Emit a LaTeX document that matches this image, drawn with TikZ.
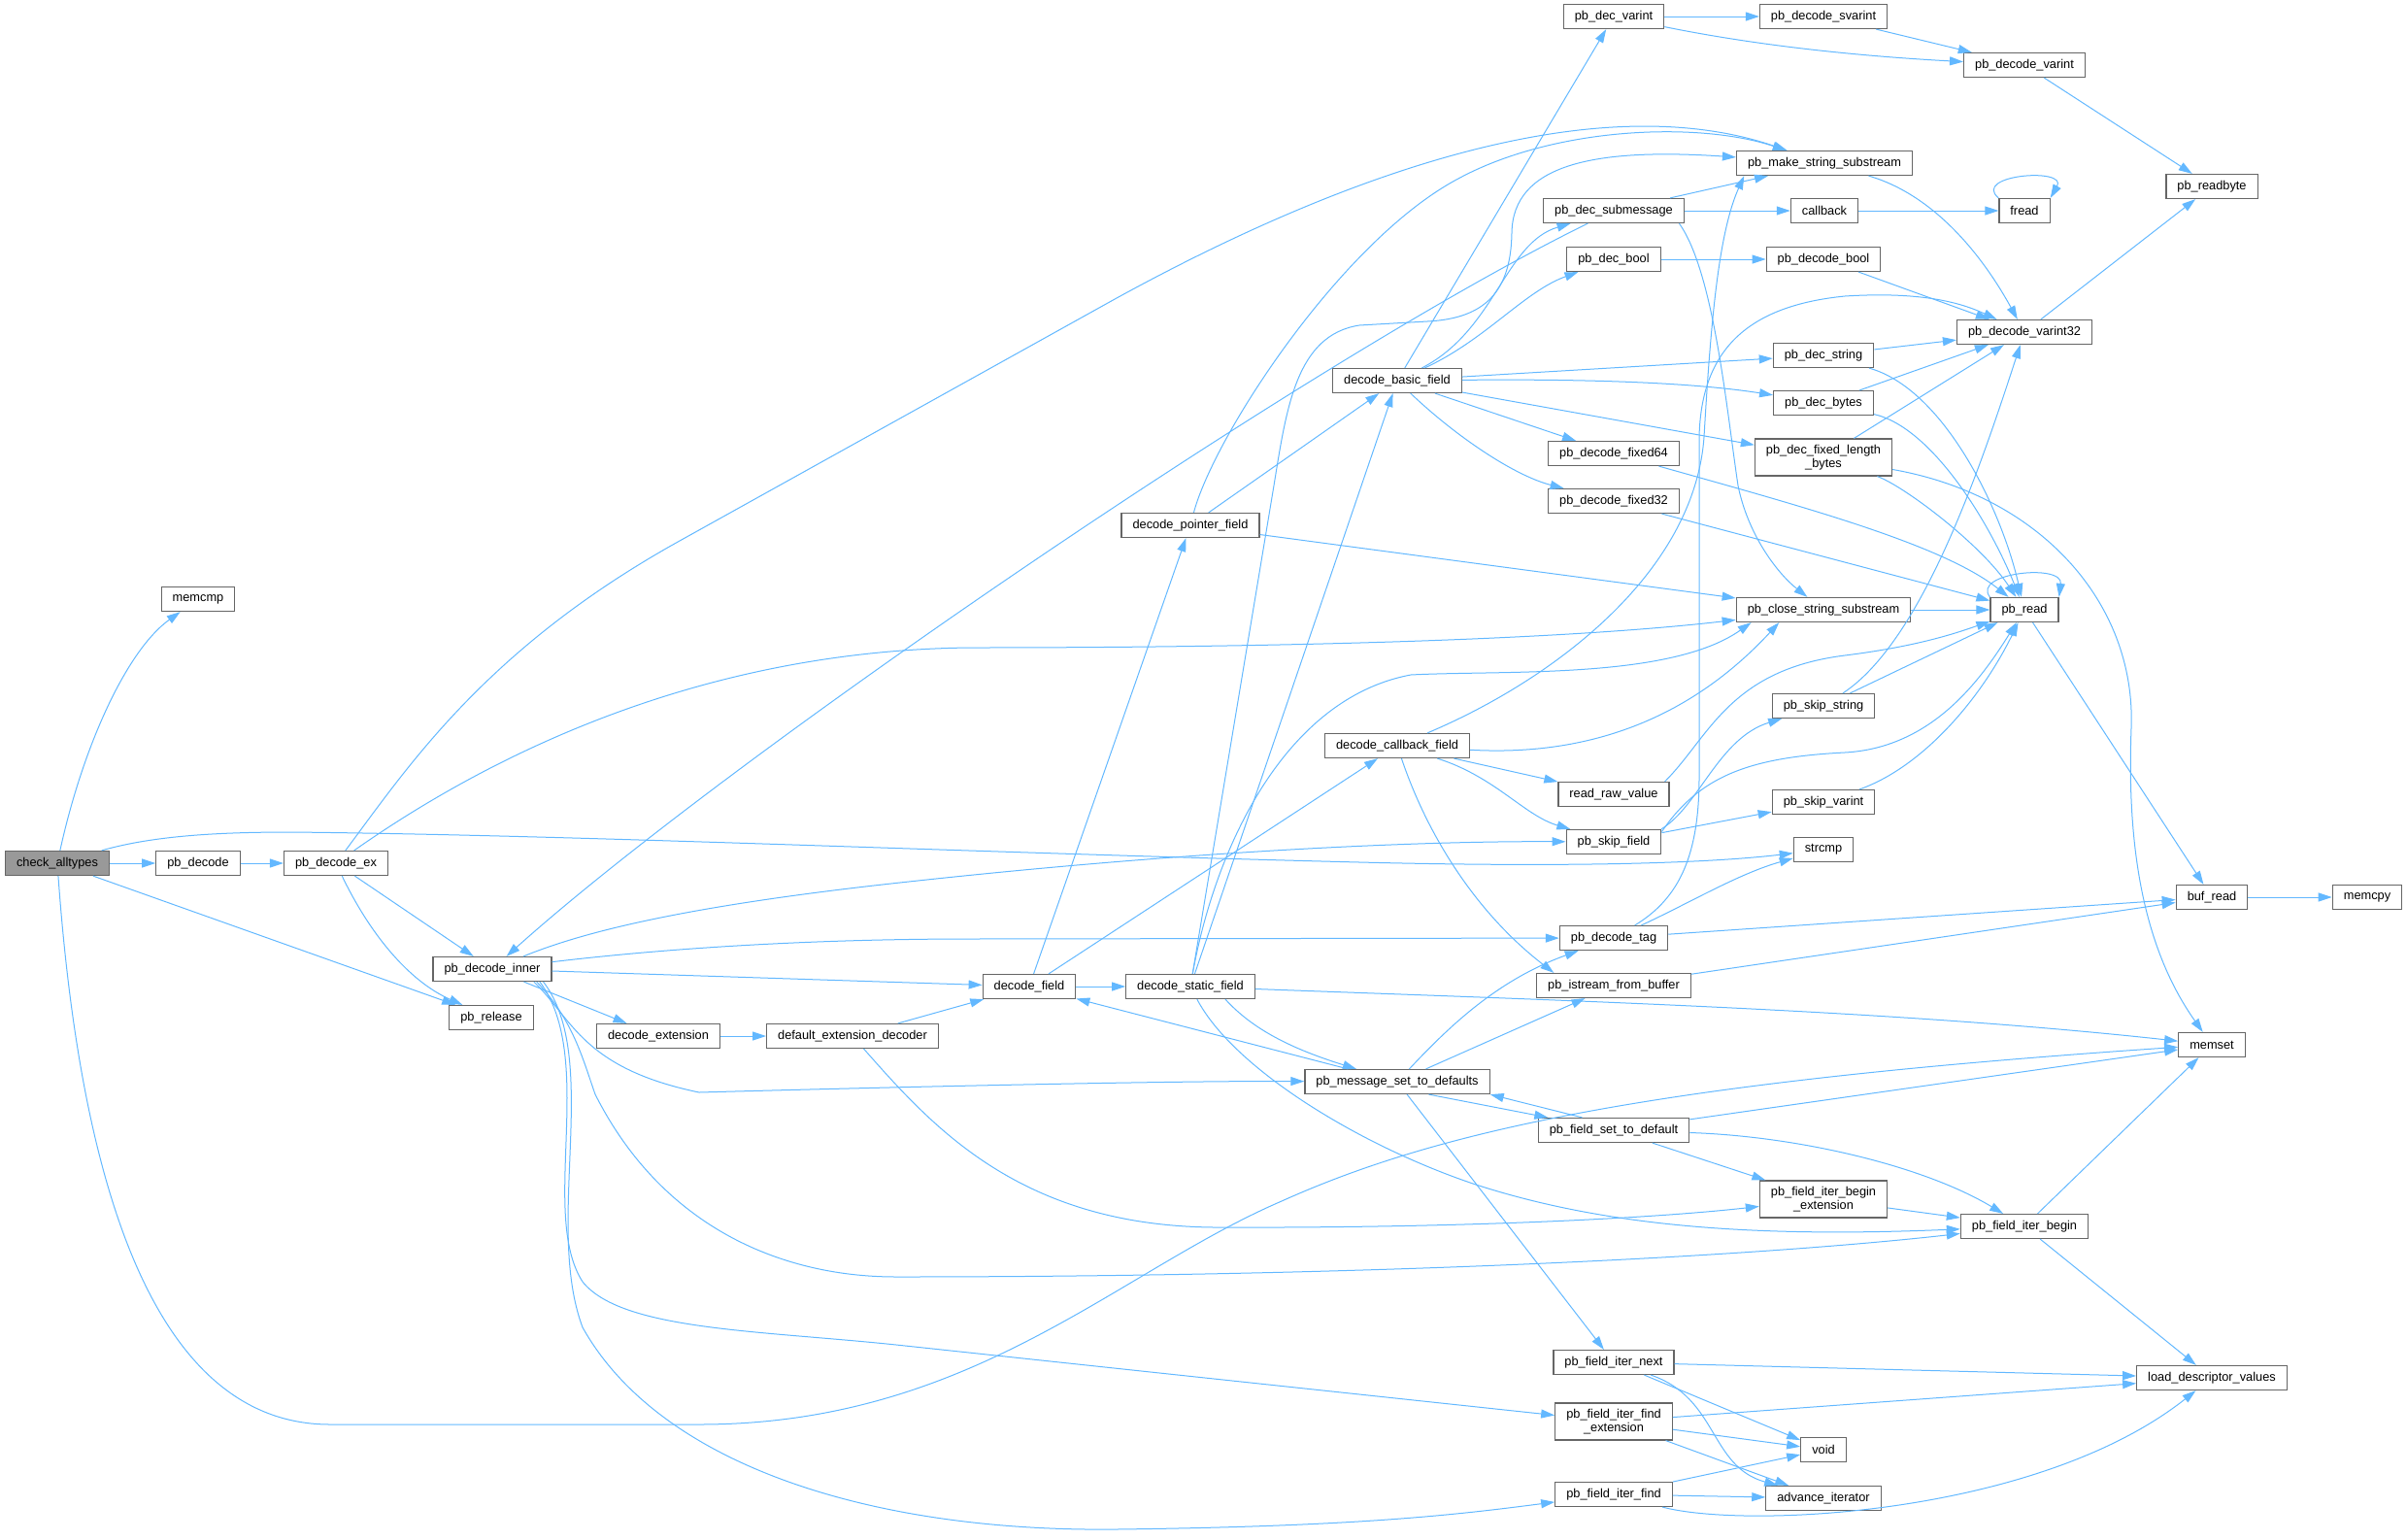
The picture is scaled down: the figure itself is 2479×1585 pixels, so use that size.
\documentclass[tikz,border=0pt]{standalone}
\usepackage{fontspec}
\newfontfamily\graphfont{Liberation Sans}
\usetikzlibrary{arrows.meta}
\definecolor{edgeblue}{HTML}{63B8FF}
\definecolor{boxgray}{HTML}{666666}
\definecolor{rootgray}{HTML}{999999}

\begin{document}
\begin{tikzpicture}[
      x=0.5pt, y=-0.5pt,
      every node/.style={draw=boxgray, fill=white, line width=0.6pt,
        inner xsep=5.75pt, inner ysep=0pt, minimum height=12.5pt,
        font=\graphfont\fontsize{6.4}{7.2}\selectfont},
      two/.style={align=center, minimum height=19pt},
      call/.style={draw=edgeblue, line width=0.5pt,
        -{Triangle[length=7pt,width=4.5pt]}}]
    \useasboundingbox (0,0) rectangle (2479,1585);

    \node[fill=rootgray] (ca) at (59,889) {check\_alltypes};
    \node (memcmp)  at (204,617)   {memcmp};
    \node (pbd)     at (204,889)   {pb\_decode};
    \node (pbdex)   at (346,889)   {pb\_decode\_ex};
    \node (pbdi)    at (507,998)   {pb\_decode\_inner};
    \node (pbrel)   at (506,1048)  {pb\_release};
    \node (dext)    at (678,1067)  {decode\_extension};
    \node (dextd)   at (878,1067)  {default\_extension\_decoder};
    \node (df)      at (1060,1016) {decode\_field};
    \node (dsf)     at (1226,1016) {decode\_static\_field};
    \node (dpf)     at (1226,541)  {decode\_pointer\_field};
    \node (dbf)     at (1439,392)  {decode\_basic\_field};
    \node (dcf)     at (1439,768)  {decode\_callback\_field};
    \node (pmsd)    at (1439,1114) {pb\_message\_set\_to\_defaults};
    \node (pdvi)    at (1662,17)   {pb\_dec\_varint};
    \node (pdsub)   at (1662,217)  {pb\_dec\_submessage};
    \node (pdbool)  at (1662,267)  {pb\_dec\_bool};
    \node (pdf64)   at (1662,467)  {pb\_decode\_fixed64};
    \node (pdf32)   at (1662,516)  {pb\_decode\_fixed32};
    \node (rrv)     at (1662,818)  {read\_raw\_value};
    \node (psf)     at (1662,867)  {pb\_skip\_field};
    \node (pdt)     at (1662,966)  {pb\_decode\_tag};
    \node (pifb)    at (1662,1015) {pb\_istream\_from\_buffer};
    \node (pfstd)   at (1662,1164) {pb\_field\_set\_to\_default};
    \node (pfin)    at (1662,1403) {pb\_field\_iter\_next};
    \node[two] (pfife) at (1662,1464) {pb\_field\_iter\_find\\\_extension};
    \node (pfif)    at (1662,1539) {pb\_field\_iter\_find};
    \node (pdsv)    at (1878,17)   {pb\_decode\_svarint};
    \node (pmss)    at (1879,168)  {pb\_make\_string\_substream};
    \node (cb)      at (1879,217)  {callback};
    \node (pdcbool) at (1878,267)  {pb\_decode\_bool};
    \node (pdstr)   at (1878,366)  {pb\_dec\_string};
    \node (pdbytes) at (1878,415)  {pb\_dec\_bytes};
    \node[two] (pdflb) at (1878,471) {pb\_dec\_fixed\_length\\\_bytes};
    \node (pcss)    at (1878,628)  {pb\_close\_string\_substream};
    \node (pss)     at (1878,727)  {pb\_skip\_string};
    \node (psv)     at (1878,826)  {pb\_skip\_varint};
    \node (strcmp)  at (1878,875)  {strcmp};
    \node[two] (pfibe) at (1878,1235) {pb\_field\_iter\_begin\\\_extension};
    \node (void)    at (1878,1493) {void};
    \node (ai)      at (1878,1543) {advance\_iterator};
    \node (pdvar)   at (2085,67)   {pb\_decode\_varint};
    \node (fread)   at (2085,217)  {fread};
    \node (pdv32)   at (2085,342)  {pb\_decode\_varint32};
    \node (pread)   at (2085,628)  {pb\_read};
    \node (pfib)    at (2085,1263) {pb\_field\_iter\_begin};
    \node (prb)     at (2278,192)  {pb\_readbyte};
    \node (bufr)    at (2278,924)  {buf\_read};
    \node (memset)  at (2278,1076) {memset};
    \node (ldv)     at (2278,1419) {load\_descriptor\_values};
    \node (memcpy)  at (2438,924)  {memcpy};

    % check_alltypes and the decode entry points
    \draw[call] (ca) .. controls (85,770) and (130,670) .. (memcmp);
    \draw[call] (ca) -- (pbd);
    \draw[call] (ca) -- (pbrel);
    \draw[call] (ca) .. controls (160,860) and (230,857) .. (300,857) .. controls (600,860) and (1000,878) .. (1400,888) .. controls (1600,893) and (1750,890) .. (strcmp);
    \draw[call] (ca) .. controls (85,1250) and (170,1467) .. (340,1467) -- (720,1467) .. controls (1000,1467) and (1150,1310) .. (1320,1237) .. controls (1480,1165) and (1700,1115) .. (memset);
    \draw[call] (pbd) -- (pbdex);
    \draw[call] (pbdex) .. controls (420,790) and (500,668) .. (700,557) -- (1150,307) .. controls (1400,170) and (1650,90) .. (pmss);
    \draw[call] (pbdex) .. controls (480,795) and (700,670) .. (1000,667) .. controls (1300,667) and (1600,660) .. (pcss);
    \draw[call] (pbdex) -- (pbdi);
    \draw[call] (pbdex) .. controls (380,960) and (420,1010) .. (pbrel);

    % pb_decode_inner
    \draw[call] (pbdi) .. controls (600,960) and (700,935) .. (900,912) .. controls (1200,878) and (1450,866) .. (psf);
    \draw[call] (pbdi) .. controls (700,975) and (850,967) .. (1000,967) -- (pdt);
    \draw[call] (pbdi) -- (df);
    \draw[call] (pbdi) -- (dext);
    \draw[call] (pbdi.-17) .. controls (590,1050) and (600,1100) .. (720,1125) .. controls (900,1120) and (1200,1113) .. (pmsd);
    \draw[call] (pbdi.-16) .. controls (590,1050) and (600,1090) .. (613,1127) .. controls (680,1260) and (800,1315) .. (923,1315) .. controls (1400,1315) and (1800,1295) .. (pfib);
    \draw[call] (pbdi.-15) .. controls (615,1090) and (555,1250) .. (600,1320) .. controls (640,1370) and (780,1370) .. (923,1385) -- (pfife);
    \draw[call] (pbdi.-14) .. controls (620,1090) and (560,1260) .. (600,1367) .. controls (680,1510) and (900,1578) .. (1150,1575) .. controls (1400,1572) and (1500,1560) .. (pfif);
    \draw[call] (pdsub) .. controls (1350,370) and (750,780) .. (pbdi);

    % extension and field decoding
    \draw[call] (dext) -- (dextd);
    \draw[call] (dextd) -- (df);
    \draw[call] (dextd) .. controls (960,1160) and (1050,1262) .. (1250,1264) .. controls (1500,1265) and (1700,1255) .. (pfibe);
    \draw[call] (df) -- (dpf);
    \draw[call] (df) -- (dsf);
    \draw[call] (df) -- (dcf);
    \draw[call] (dsf) -- (dbf);
    \draw[call] (dsf) -- (1312,500) .. controls (1325,420) and (1335,345) .. (1400,335) -- (1470,331) .. controls (1530,328) and (1556,300) .. (1557,240) .. controls (1558,170) and (1640,152) .. (pmss);
    \draw[call] (dsf) .. controls (1250,880) and (1320,720) .. (1453,695) .. controls (1550,690) and (1720,700) .. (pcss.190);
    \draw[call] (dsf) .. controls (1600,1030) and (1950,1040) .. (memset);
    \draw[call] (dsf) .. controls (1270,1100) and (1400,1180) .. (1520,1220) .. controls (1650,1262) and (1800,1275) .. (pfib);
    \draw[call] (dsf.-20) .. controls (1290,1060) and (1330,1080) .. (pmsd);
    \draw[call] (dpf) -- (dbf);
    \draw[call] (dpf) .. controls (1250,450) and (1380,250) .. (1500,185) .. controls (1600,130) and (1750,125) .. (pmss);
    \draw[call] (dpf) -- (pcss);

    % decode_basic_field
    \draw[call] (dbf) -- (pdvi);
    \draw[call] (dbf) .. controls (1540,340) and (1550,250) .. (pdsub);
    \draw[call] (dbf) .. controls (1530,350) and (1570,300) .. (pdbool);
    \draw[call] (dbf) -- (pdstr);
    \draw[call] (dbf) .. controls (1650,390) and (1750,395) .. (pdbytes);
    \draw[call] (dbf) -- (pdflb);
    \draw[call] (dbf) -- (pdf64);
    \draw[call] (dbf) .. controls (1500,450) and (1560,490) .. (pdf32);

    % varints and streams
    \draw[call] (pdvi) -- (pdsv);
    \draw[call] (pdvi) .. controls (1800,45) and (1900,57) .. (pdvar);
    \draw[call] (pdsv) -- (pdvar);
    \draw[call] (pdvar) -- (prb);
    \draw[call] (pdsub) -- (pmss);
    \draw[call] (pdsub) -- (cb);
    \draw[call] (pdsub.-11) .. controls (1765,280) and (1778,420) .. (1790,500) .. controls (1800,550) and (1830,590) .. (pcss);
    \draw[call] (cb) -- (fread);
    \draw[call] (fread.north west) .. controls (2030,180) and (2130,172) .. (fread.north east);
    \draw[call] (pmss) .. controls (1990,200) and (2040,260) .. (pdv32);
    \draw[call] (pdbool) -- (pdcbool);
    \draw[call] (pdcbool) -- (pdv32);
    \draw[call] (pdv32) -- (prb);
    \draw[call] (pdstr) -- (pdv32);
    \draw[call] (pdstr) .. controls (2000,400) and (2060,520) .. (pread);
    \draw[call] (pdbytes) -- (pdv32);
    \draw[call] (pdbytes) .. controls (1990,440) and (2050,540) .. (pread);
    \draw[call] (pdflb) -- (pdv32);
    \draw[call] (pdflb) .. controls (1960,500) and (2040,560) .. (pread);
    \draw[call] (pdflb) .. controls (2100,510) and (2200,620) .. (2195,750) .. controls (2190,880) and (2210,980) .. (memset);
    \draw[call] (pdf64) .. controls (1850,520) and (2000,560) .. (pread);
    \draw[call] (pdf32) -- (pread);
    \draw[call] (pcss) -- (pread);
    \draw[call] (pread.north west) .. controls (2030,590) and (2125,580) .. (pread.north east);
    \draw[call] (pread) -- (bufr);

    % callback fields and skipping
    \draw[call] (dcf) .. controls (1600,700) and (1745,590) .. (1755,450) .. controls (1762,330) and (1770,240) .. (pmss.189);
    \draw[call] (dcf) .. controls (1650,780) and (1750,730) .. (pcss.196);
    \draw[call] (dcf) -- (rrv);
    \draw[call] (dcf) .. controls (1540,800) and (1570,840) .. (psf);
    \draw[call] (dcf) .. controls (1470,860) and (1520,940) .. (pifb.168);
    \draw[call] (rrv.14) .. controls (1760,760) and (1780,690) .. (1900,675) .. controls (1980,665) and (2020,650) .. (pread);
    \draw[call] (psf.15) .. controls (1750,830) and (1770,760) .. (pss);
    \draw[call] (psf) -- (psv);
    \draw[call] (psf.12) .. controls (1750,800) and (1800,780) .. (1900,775) .. controls (1990,770) and (2040,700) .. (pread);
    \draw[call] (pss) .. controls (1980,660) and (2040,480) .. (pdv32);
    \draw[call] (pss) -- (pread);
    \draw[call] (psv) .. controls (1980,790) and (2040,720) .. (pread);
    \draw[call] (pdt) .. controls (1730,925) and (1750,880) .. (1750,800) -- (1750,450) .. controls (1752,360) and (1800,315) .. (1900,305) .. controls (1980,300) and (2020,312) .. (pdv32);
    \draw[call] (pdt) .. controls (1740,930) and (1790,900) .. (strcmp);
    \draw[call] (pdt) -- (bufr);
    \draw[call] (pifb) -- (bufr);
    \draw[call] (bufr) -- (memcpy);

    % defaults and field iterators
    \draw[call] (pmsd) .. controls (1490,1060) and (1540,1010) .. (pdt);
    \draw[call] (pmsd) -- (pifb);
    \draw[call] (pmsd) -- (df);
    \draw[call] (pmsd.-22) -- (pfstd);
    \draw[call] (pfstd.158) -- (pmsd.south east);
    \draw[call] (pmsd) -- (pfin);
    \draw[call] (pfstd) -- (memset);
    \draw[call] (pfstd) -- (pfibe);
    \draw[call] (pfstd) .. controls (1850,1170) and (1980,1200) .. (pfib);
    \draw[call] (pfibe) -- (pfib);
    \draw[call] (pfib) -- (memset);
    \draw[call] (pfib) -- (ldv);
    \draw[call] (pfin) -- (ldv);
    \draw[call] (pfin) -- (void);
    \draw[call] (pfin) .. controls (1770,1440) and (1760,1510) .. (ai);
    \draw[call] (pfife) -- (ldv);
    \draw[call] (pfife) -- (void);
    \draw[call] (pfife) -- (ai);
    \draw[call] (pfif) -- (void);
    \draw[call] (pfif) -- (ai);
    \draw[call] (pfif) .. controls (1800,1575) and (2100,1560) .. (ldv);

  \end{tikzpicture}
\end{document}
